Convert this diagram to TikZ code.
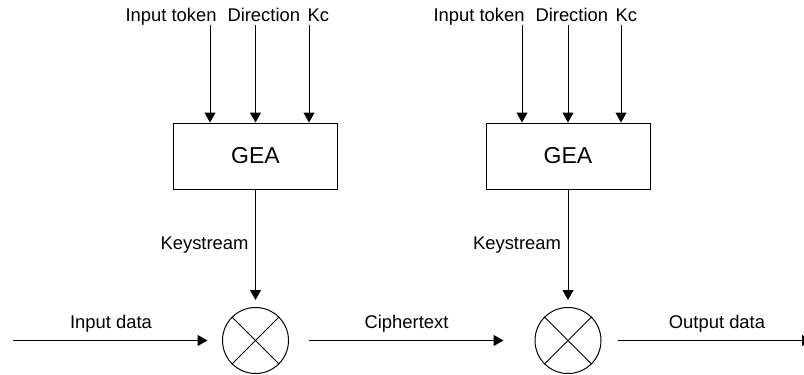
\documentclass[tikz,border=0pt]{standalone}
\usepackage{fontspec}
\setmainfont{Liberation Sans}
\usetikzlibrary{arrows.meta}
\begin{document}
\begin{tikzpicture}[x=.5pt,y=-.5pt,line width=.5pt,
		arr/.style={-{Triangle[length=5pt,width=5.5pt]}},
		lbl/.style={font=\fontsize{9.2}{11}\selectfont,inner sep=0pt,anchor=base west},
		gea/.style={draw,minimum width=82pt,minimum height=33pt,font=\fontsize{11.5}{13}\selectfont},
		mix/.style={draw,circle,minimum size=33pt,inner sep=0pt}]
		\clip (0,0) rectangle (804,375);
		\node[gea] (gea1) at (255.5,156) {GEA};
		\node[gea] (gea2) at (568,156) {GEA};
		\node[mix] (mix1) at (255.5,340.5) {};
		\node[mix] (mix2) at (568,340.5) {};
		\draw (mix1.north west) -- (mix1.south east);
		\draw (mix1.north east) -- (mix1.south west);
		\draw (mix2.north west) -- (mix2.south east);
		\draw (mix2.north east) -- (mix2.south west);
		\node[lbl] (tok1) at (125,21) {Input token};
		\node[lbl] (dir1) at (227,21) {Direction};
		\node[lbl] (kc1) at (307,21) {Kc};
		\node[lbl] (tok2) at (433,21) {Input token};
		\node[lbl] (dir2) at (535,21) {Direction};
		\node[lbl] (kc2) at (615,21) {Kc};
		\coordinate (a1) at (210,25);
		\coordinate (b1) at (255.5,25);
		\coordinate (c1) at (309,25);
		\coordinate (a2) at (522,25);
		\coordinate (b2) at (568,25);
		\coordinate (c2) at (621,25);
		\draw[arr] (a1) -- (a1 |- gea1.north);
		\draw[arr] (b1) -- (gea1.north);
		\draw[arr] (c1) -- (c1 |- gea1.north);
		\draw[arr] (a2) -- (a2 |- gea2.north);
		\draw[arr] (b2) -- (gea2.north);
		\draw[arr] (c2) -- (c2 |- gea2.north);
		\node[lbl,anchor=base east] (ks1) at (249,249) {Keystream};
		\node[lbl,anchor=base east] (ks2) at (561.5,249) {Keystream};
		\draw[arr,shorten >=3.5pt] (gea1.south) -- (mix1.north);
		\draw[arr,shorten >=3.5pt] (gea2.south) -- (mix2.north);
		\coordinate (in) at (13,340.5);
		\coordinate (out) at (812,340.5);
		\draw[arr,shorten >=7.25pt] (in) -- (mix1.west);
		\draw[arr,shorten <=9.75pt,shorten >=15.5pt] (mix1.east) -- (mix2.west);
		\draw[arr,shorten <=8pt] (mix2.east) -- (out);
		\node[lbl,anchor=base] (indata) at (111,328) {Input data};
		\node[lbl,anchor=base] (ciph) at (406.5,328) {Ciphertext};
		\node[lbl,anchor=base] (outdata) at (717,328) {Output data};
	\end{tikzpicture}
\end{document}
